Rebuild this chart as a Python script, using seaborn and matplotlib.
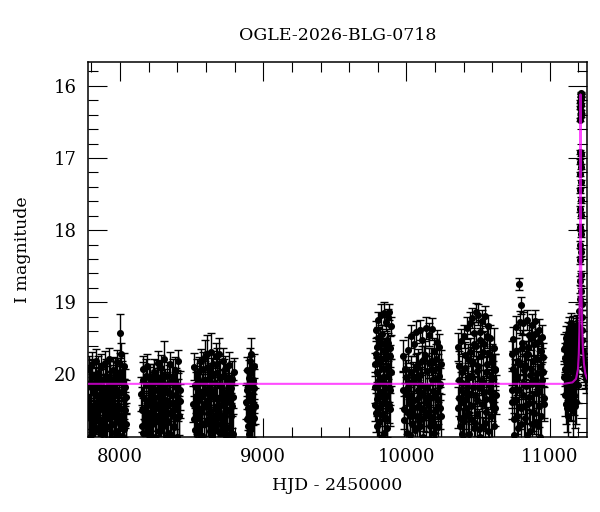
import numpy as np
import pandas as pd
import matplotlib
matplotlib.use("Agg")
import matplotlib.pyplot as plt
from matplotlib.ticker import MultipleLocator
import seaborn as sns

# OGLE photometry (HJD - 2450000, I mag, error)
s1_t = [7778, 7784, 7790, 7795, 7801, 7806, 7812, 7818, 7823, 7829, 7835, 7841, 7846, 7852, 7858, 7864,
        7870, 7876, 7881, 7887, 7893, 7899, 7904, 7910, 7916, 7922, 7928, 7933, 7939, 7945, 7951, 7957,
        7962, 7968, 7974, 7980, 7986, 7991, 7997, 8000, 8003, 8009, 8015, 8021, 8027, 8033, 8039, 8044,
        7781, 7787, 7793, 7798, 7804, 7809, 7815, 7821, 7826, 7832, 7838, 7844, 7849, 7855, 7861, 7867,
        7873, 7879, 7884, 7890, 7896, 7902, 7907, 7913, 7919, 7925, 7931, 7936, 7942, 7948, 7954, 7960,
        7965, 7971, 7977, 7983, 7989, 7994, 8006, 8012, 8018, 8024, 8030, 8036, 8042]
s1_m = [20.35, 19.92, 20.61, 20.18, 20.83, 19.86, 20.44, 20.97, 20.12, 20.56, 19.81, 20.29, 20.74, 20.05,
        20.48, 21.02, 19.89, 20.38, 20.66, 20.21, 19.84, 20.52, 20.91, 20.08, 20.33, 19.79, 20.71, 20.45,
        20.16, 20.88, 19.94, 20.27, 20.59, 20.03, 20.79, 19.83, 20.42, 20.64, 19.96, 19.43, 19.72, 20.24,
        20.85, 20.11, 19.88, 20.49, 20.69, 20.31,
        20.58, 20.12, 20.87, 20.44, 20.03, 20.69, 20.26, 20.51, 20.92, 20.15, 20.38, 20.77, 19.98, 20.62,
        20.31, 20.09, 20.83, 20.47, 20.19, 20.95, 20.57, 20.02, 20.73, 20.36, 20.61, 20.24, 20.06, 20.89,
        20.41, 20.13, 20.68, 20.52, 20.01, 20.81, 20.29, 20.57, 20.11, 20.86, 20.48, 20.05, 20.63, 20.34,
        20.76, 20.18, 20.91]
s1_e = [0.24, 0.18, 0.29, 0.22, 0.31, 0.17, 0.26, 0.33, 0.21, 0.27, 0.16, 0.23, 0.30, 0.20, 0.26, 0.34,
        0.18, 0.24, 0.28, 0.21, 0.17, 0.27, 0.32, 0.20, 0.23, 0.16, 0.29, 0.25, 0.21, 0.31, 0.18, 0.23,
        0.27, 0.20, 0.30, 0.17, 0.24, 0.28, 0.19, 0.27, 0.16, 0.22, 0.31, 0.21, 0.18, 0.25, 0.29, 0.24,
        0.30, 0.25, 0.36, 0.31, 0.24, 0.33, 0.28, 0.31, 0.38, 0.26, 0.29, 0.35, 0.23, 0.32, 0.28, 0.25,
        0.36, 0.30, 0.26, 0.39, 0.31, 0.24, 0.34, 0.28, 0.32, 0.27, 0.25, 0.37, 0.29, 0.26, 0.33, 0.31,
        0.24, 0.36, 0.28, 0.31, 0.26, 0.37, 0.30, 0.24, 0.32, 0.28, 0.35, 0.26, 0.38]

s2_t = [8148, 8154, 8160, 8166, 8172, 8178, 8184, 8190, 8196, 8202, 8208, 8214, 8220, 8226, 8232, 8238,
        8244, 8250, 8256, 8262, 8268, 8274, 8280, 8286, 8292, 8298, 8304, 8310, 8316, 8322, 8328, 8334,
        8340, 8346, 8352, 8358, 8364, 8370, 8376, 8382, 8388, 8394, 8400, 8406, 8412, 8417,
        8151, 8157, 8163, 8169, 8175, 8181, 8187, 8193, 8199, 8205, 8211, 8217, 8223, 8229, 8235, 8241,
        8247, 8253, 8259, 8265, 8271, 8277, 8283, 8289, 8295, 8301, 8307, 8313, 8319, 8325, 8331, 8337,
        8343, 8349, 8355, 8361, 8367, 8373, 8379, 8385, 8391, 8397, 8403, 8409, 8415]
s2_m = [20.27, 20.72, 19.93, 20.48, 20.95, 20.14, 20.61, 19.88, 20.39, 20.83, 20.06, 20.52, 21.05, 20.22,
        20.67, 19.97, 20.43, 20.89, 20.11, 19.84, 20.58, 20.31, 20.79, 19.91, 20.46, 20.17, 20.92, 19.79,
        20.36, 20.63, 20.02, 20.81, 20.25, 19.86, 20.54, 20.98, 20.09, 20.41, 20.73, 19.94, 20.29, 20.86,
        20.15, 19.82, 20.57, 20.37,
        20.49, 20.08, 20.81, 20.33, 20.61, 20.02, 20.74, 20.42, 20.15, 20.93, 20.55, 20.27, 20.69, 20.11,
        20.38, 20.86, 20.21, 20.63, 20.04, 20.47, 20.79, 20.16, 20.58, 20.32, 20.07, 20.71, 20.44, 20.19,
        20.88, 20.53, 20.24, 20.66, 20.12, 20.39, 20.84, 20.28, 20.57, 20.03, 20.72, 20.45, 20.17, 20.61,
        20.35, 20.94, 20.22]
s2_e = [0.23, 0.29, 0.18, 0.25, 0.32, 0.21, 0.27, 0.17, 0.24, 0.30, 0.20, 0.26, 0.34, 0.22, 0.28, 0.18,
        0.25, 0.31, 0.20, 0.17, 0.27, 0.23, 0.30, 0.18, 0.25, 0.21, 0.32, 0.26, 0.24, 0.28, 0.19, 0.30,
        0.22, 0.17, 0.26, 0.33, 0.20, 0.24, 0.29, 0.18, 0.23, 0.31, 0.21, 0.16, 0.27, 0.24,
        0.31, 0.25, 0.36, 0.29, 0.33, 0.24, 0.35, 0.30, 0.26, 0.39, 0.32, 0.28, 0.34, 0.25, 0.29, 0.37,
        0.27, 0.33, 0.24, 0.30, 0.36, 0.26, 0.32, 0.29, 0.25, 0.35, 0.30, 0.27, 0.38, 0.31, 0.27, 0.34,
        0.25, 0.29, 0.37, 0.28, 0.32, 0.24, 0.35, 0.30, 0.26, 0.33, 0.29, 0.39, 0.27]

s3_t = [8512, 8518, 8524, 8530, 8536, 8542, 8548, 8554, 8560, 8566, 8572, 8578, 8584, 8590, 8596, 8602,
        8608, 8614, 8620, 8626, 8632, 8638, 8644, 8650, 8656, 8662, 8668, 8674, 8680, 8686, 8692, 8698,
        8704, 8710, 8716, 8722, 8728, 8734, 8740, 8746, 8752, 8758, 8764, 8770, 8776, 8782, 8788, 8794,
        8515, 8521, 8527, 8533, 8539, 8545, 8551, 8557, 8563, 8569, 8575, 8581, 8587, 8593, 8599, 8605,
        8611, 8617, 8623, 8629, 8635, 8641, 8647, 8653, 8659, 8665, 8671, 8677, 8683, 8689, 8695, 8701,
        8707, 8713, 8719, 8725, 8731, 8737, 8743, 8749, 8755, 8761, 8767, 8773, 8779, 8785, 8791]
s3_m = [20.41, 19.89, 20.77, 20.18, 20.56, 21.01, 19.95, 20.33, 20.84, 19.82, 20.47, 20.12, 20.69, 19.76,
        20.26, 20.93, 19.71, 20.38, 20.62, 20.04, 19.69, 20.51, 20.87, 19.85, 20.23, 20.71, 19.74, 20.44,
        19.98, 20.79, 19.72, 20.15, 20.58, 20.96, 19.81, 20.35, 20.66, 19.93, 20.28, 20.82, 20.07, 19.87,
        20.49, 20.74, 20.19, 20.89, 20.31, 19.96,
        20.62, 20.14, 20.45, 20.91, 20.03, 20.36, 20.72, 20.09, 20.51, 20.27, 20.85, 19.92, 20.41, 20.07,
        20.66, 20.21, 19.89, 20.54, 20.17, 20.78, 20.31, 20.01, 20.59, 20.24, 20.92, 20.12, 20.47, 19.86,
        20.69, 20.33, 20.05, 20.81, 20.42, 20.19, 20.64, 20.02, 20.53, 20.26, 20.88, 20.38, 20.11, 20.73,
        20.29, 20.57, 20.06, 20.44, 20.83]
s3_e = [0.25, 0.19, 0.30, 0.21, 0.27, 0.34, 0.19, 0.23, 0.31, 0.17, 0.26, 0.21, 0.29, 0.24, 0.22, 0.32,
        0.25, 0.24, 0.28, 0.20, 0.26, 0.27, 0.31, 0.18, 0.22, 0.29, 0.17, 0.25, 0.19, 0.30, 0.22, 0.21,
        0.27, 0.33, 0.18, 0.23, 0.28, 0.19, 0.22, 0.30, 0.20, 0.18, 0.26, 0.29, 0.21, 0.31, 0.24, 0.19,
        0.32, 0.26, 0.30, 0.38, 0.24, 0.29, 0.35, 0.25, 0.31, 0.28, 0.37, 0.23, 0.30, 0.25, 0.33, 0.27,
        0.22, 0.31, 0.26, 0.35, 0.29, 0.24, 0.32, 0.27, 0.38, 0.25, 0.30, 0.22, 0.34, 0.29, 0.24, 0.36,
        0.30, 0.26, 0.33, 0.24, 0.31, 0.28, 0.37, 0.29, 0.25, 0.35, 0.28, 0.32, 0.24, 0.30, 0.36]

s4_t = [8882, 8887, 8891, 8896, 8900, 8905, 8909, 8914, 8918, 8923, 8927, 8932, 8936, 8940,
        8884, 8889, 8893, 8898, 8902, 8907, 8911, 8916, 8920, 8925, 8929, 8934, 8938]
s4_m = [20.38, 19.94, 20.71, 20.16, 20.89, 19.81, 20.52, 19.72, 20.27, 20.96, 20.08, 20.61, 19.88, 20.44,
        20.62, 20.21, 20.47, 20.83, 20.05, 20.34, 20.74, 19.98, 20.56, 20.12, 20.41, 20.92, 20.19]
s4_e = [0.24, 0.18, 0.29, 0.21, 0.32, 0.17, 0.26, 0.22, 0.22, 0.33, 0.19, 0.27, 0.17, 0.25,
        0.32, 0.27, 0.30, 0.36, 0.25, 0.29, 0.34, 0.24, 0.31, 0.26, 0.29, 0.38, 0.27]

s5_t = [9780, 9784, 9788, 9792, 9796, 9800, 9804, 9808, 9812, 9816, 9820, 9824, 9828, 9832, 9836, 9840,
        9844, 9848, 9852, 9856, 9860, 9864, 9868, 9872, 9876, 9880, 9884, 9888, 9892,
        9782, 9786, 9790, 9794, 9798, 9802, 9806, 9810, 9814, 9818, 9822, 9826, 9830, 9834, 9838, 9842,
        9846, 9850, 9854, 9858, 9862, 9866, 9870, 9874, 9878, 9882, 9886, 9890]
s5_m = [19.86, 20.42, 19.38, 20.71, 19.62, 20.15, 19.24, 20.93, 19.51, 20.28, 19.17, 19.79, 20.56, 19.44,
        20.04, 19.15, 20.81, 19.69, 20.33, 19.28, 19.93, 20.62, 19.21, 19.56, 20.19, 19.14, 19.74, 20.48, 19.33,
        20.18, 19.71, 20.53, 19.96, 20.34, 19.49, 20.66, 20.07, 19.83, 20.46, 19.58, 20.24, 20.87, 19.91,
        20.39, 19.66, 20.12, 20.59, 19.77, 20.28, 19.52, 20.74, 20.01, 19.88, 20.42, 19.63, 20.21, 19.97]
s5_e = [0.16, 0.22, 0.12, 0.27, 0.14, 0.19, 0.11, 0.31, 0.14, 0.20, 0.15, 0.16, 0.24, 0.13, 0.18, 0.16,
        0.29, 0.15, 0.21, 0.12, 0.17, 0.25, 0.12, 0.14, 0.19, 0.11, 0.15, 0.23, 0.13,
        0.22, 0.17, 0.27, 0.19, 0.24, 0.15, 0.29, 0.21, 0.18, 0.26, 0.16, 0.22, 0.33, 0.19, 0.25, 0.16,
        0.21, 0.28, 0.17, 0.23, 0.15, 0.30, 0.20, 0.18, 0.25, 0.16, 0.22, 0.19]

s6_t = [9975, 9982, 9990, 9998, 10006, 10014, 10020, 10026, 10032, 10038, 10044, 10050, 10056, 10062,
        10068, 10074, 10080, 10086, 10092, 10098, 10104, 10110, 10116, 10122, 10128, 10134, 10140, 10146,
        10152, 10158, 10164, 10170, 10176, 10182, 10188, 10194, 10200, 10206, 10212, 10218, 10224, 10230,
        10236, 10242,
        9978, 9986, 9994, 10002, 10010, 10017, 10023, 10029, 10035, 10041, 10047, 10053, 10059, 10065,
        10071, 10077, 10083, 10089, 10095, 10101, 10107, 10113, 10119, 10125, 10131, 10137, 10143, 10149,
        10155, 10161, 10167, 10173, 10179, 10185, 10191, 10197, 10203, 10209, 10215, 10221, 10227, 10233,
        10239]
s6_m = [19.74, 20.48, 19.92, 20.27, 20.81, 19.66, 20.12, 20.57, 19.47, 20.93, 20.03, 19.58, 20.36, 20.74,
        19.41, 19.89, 20.22, 20.65, 19.38, 20.01, 20.46, 19.52, 20.86, 19.79, 20.17, 19.36, 20.54, 19.95,
        20.39, 19.45, 20.71, 19.82, 20.08, 19.37, 20.59, 19.68, 20.29, 20.97, 19.55, 19.91, 20.44, 19.62,
        20.13, 19.86,
        20.21, 20.63, 20.04, 20.52, 20.17, 20.39, 20.84, 19.96, 20.28, 20.69, 20.36, 20.11, 20.77, 19.93,
        20.45, 20.58, 19.86, 20.31, 20.72, 20.14, 19.81, 20.61, 20.25, 20.49, 19.73, 20.91, 20.19, 20.42,
        19.84, 20.56, 20.33, 20.67, 19.92, 20.23, 20.81, 20.06, 20.51, 19.78, 20.34, 20.73, 20.02, 20.47,
        20.58]
s6_e = [0.22, 0.27, 0.20, 0.24, 0.30, 0.18, 0.22, 0.27, 0.16, 0.32, 0.20, 0.17, 0.24, 0.28, 0.15, 0.19,
        0.22, 0.27, 0.14, 0.20, 0.25, 0.17, 0.31, 0.19, 0.21, 0.15, 0.26, 0.20, 0.24, 0.16, 0.28, 0.19,
        0.21, 0.15, 0.27, 0.18, 0.23, 0.33, 0.17, 0.20, 0.25, 0.18, 0.22, 0.20,
        0.26, 0.33, 0.24, 0.31, 0.25, 0.28, 0.36, 0.22, 0.27, 0.34, 0.28, 0.25, 0.35, 0.22, 0.30, 0.32,
        0.21, 0.28, 0.34, 0.25, 0.20, 0.32, 0.27, 0.30, 0.19, 0.38, 0.26, 0.29, 0.21, 0.31, 0.28, 0.33,
        0.22, 0.26, 0.36, 0.24, 0.30, 0.20, 0.28, 0.35, 0.23, 0.29, 0.31]

s7_t = [10358, 10364, 10370, 10376, 10382, 10388, 10394, 10400, 10406, 10412, 10418, 10424, 10430, 10436,
        10442, 10448, 10454, 10460, 10466, 10472, 10478, 10484, 10490, 10496, 10502, 10508, 10514, 10520,
        10526, 10532, 10538, 10544, 10550, 10556, 10562, 10568, 10574, 10580, 10586, 10592, 10598, 10604,
        10610, 10616, 10622,
        10361, 10367, 10373, 10379, 10385, 10391, 10397, 10403, 10409, 10415, 10421, 10427, 10433, 10439,
        10445, 10451, 10457, 10463, 10469, 10475, 10481, 10487, 10493, 10499, 10505, 10511, 10517, 10523,
        10529, 10535, 10541, 10547, 10553, 10559, 10565, 10571, 10577, 10583, 10589, 10595, 10601, 10607,
        10613, 10619, 10625]
s7_m = [19.62, 20.33, 19.88, 20.71, 19.54, 20.12, 20.89, 19.47, 20.26, 19.73, 20.58, 19.36, 20.05, 20.82,
        19.29, 19.81, 20.44, 19.22, 20.17, 19.58, 20.67, 19.14, 19.95, 20.36, 19.17, 20.76, 19.41, 20.08,
        19.26, 20.73, 19.69, 20.24, 19.19, 20.52, 19.86, 19.33, 20.14, 20.91, 19.49, 20.03, 19.76, 20.29,
        19.64, 20.47, 19.92,
        20.46, 20.08, 20.61, 20.21, 20.83, 19.97, 20.38, 20.64, 19.91, 20.47, 20.13, 19.78, 20.53, 20.27,
        19.69, 20.62, 20.03, 19.84, 20.74, 19.43, 20.29, 19.61, 20.55, 19.88, 20.19, 19.52, 20.86, 19.74,
        20.41, 20.11, 19.58, 20.67, 19.96, 20.34, 19.47, 20.79, 19.71, 20.22, 20.58, 19.82, 20.37, 20.05,
        20.71, 19.94, 20.28]
s7_e = [0.19, 0.24, 0.20, 0.29, 0.17, 0.22, 0.32, 0.16, 0.23, 0.18, 0.27, 0.15, 0.21, 0.30, 0.15, 0.19,
        0.25, 0.14, 0.22, 0.17, 0.27, 0.13, 0.20, 0.24, 0.14, 0.28, 0.16, 0.21, 0.15, 0.14, 0.18, 0.22,
        0.14, 0.26, 0.19, 0.15, 0.21, 0.31, 0.17, 0.20, 0.18, 0.23, 0.29, 0.25, 0.20,
        0.28, 0.24, 0.31, 0.25, 0.35, 0.22, 0.28, 0.32, 0.21, 0.29, 0.25, 0.20, 0.30, 0.26, 0.19, 0.31,
        0.23, 0.20, 0.33, 0.16, 0.27, 0.18, 0.30, 0.21, 0.25, 0.17, 0.36, 0.20, 0.28, 0.24, 0.18, 0.32,
        0.22, 0.27, 0.17, 0.34, 0.19, 0.26, 0.31, 0.21, 0.28, 0.24, 0.33, 0.22, 0.27]

s8_t = [10735, 10741, 10747, 10753, 10759, 10765, 10771, 10777, 10783, 10787, 10791, 10797, 10800, 10805,
        10811, 10817, 10823, 10829, 10835, 10841, 10847, 10853, 10859, 10865, 10871, 10877, 10883, 10889,
        10895, 10901, 10907, 10913, 10919, 10925, 10931, 10937, 10943, 10949, 10955, 10960,
        10738, 10744, 10750, 10756, 10762, 10768, 10774, 10780, 10794, 10802, 10808, 10814, 10820, 10826,
        10832, 10838, 10844, 10850, 10856, 10862, 10868, 10874, 10880, 10886, 10892, 10898, 10904, 10910,
        10916, 10922, 10928, 10934, 10940, 10946, 10952, 10958]
s8_m = [19.72, 20.38, 19.51, 20.84, 19.98, 19.34, 20.57, 19.82, 20.21, 18.75, 19.27, 20.69, 19.04, 19.63,
        20.12, 19.29, 20.93, 19.87, 20.43, 19.24, 19.71, 20.31, 19.45, 20.78, 19.93, 19.31, 20.52, 19.58,
        20.06, 19.26, 20.66, 19.79, 20.24, 19.39, 20.87, 19.67, 20.15, 19.48, 19.96, 20.41,
        20.21, 19.93, 20.62, 20.09, 19.68, 20.35, 20.04, 20.74, 19.86, 20.47, 19.57, 20.28, 19.94, 20.61,
        19.73, 20.16, 20.84, 19.62, 20.39, 20.01, 19.49, 20.69, 20.13, 19.81, 20.53, 19.44, 20.26, 19.98,
        20.72, 19.55, 20.44, 19.89, 20.58, 20.07, 19.76, 20.33]
s8_e = [0.19, 0.24, 0.17, 0.30, 0.20, 0.15, 0.26, 0.19, 0.22, 0.08, 0.15, 0.28, 0.12, 0.18, 0.22, 0.15,
        0.33, 0.19, 0.25, 0.14, 0.18, 0.23, 0.16, 0.29, 0.20, 0.15, 0.26, 0.17, 0.21, 0.15, 0.27, 0.19,
        0.23, 0.16, 0.31, 0.18, 0.22, 0.16, 0.20, 0.24,
        0.26, 0.22, 0.31, 0.24, 0.19, 0.28, 0.24, 0.33, 0.21, 0.29, 0.18, 0.27, 0.22, 0.31, 0.19, 0.25,
        0.36, 0.18, 0.28, 0.23, 0.17, 0.32, 0.25, 0.20, 0.30, 0.16, 0.27, 0.22, 0.33, 0.18, 0.29, 0.21,
        0.31, 0.24, 0.19, 0.28]

s9_t = [11102, 11106, 11110, 11114, 11118, 11122, 11126, 11130, 11134, 11138, 11142, 11146, 11150, 11154,
        11158, 11162, 11166, 11170, 11174, 11178, 11182, 11186, 11190, 11194, 11198, 11201, 11204, 11207,
        11104, 11108, 11112, 11116, 11120, 11124, 11128, 11132, 11136, 11140, 11144, 11148, 11152, 11156,
        11160, 11164, 11168, 11172, 11176, 11180, 11184, 11188, 11192, 11196, 11200, 11203, 11206]
s9_m = [19.65, 19.92, 20.28, 19.58, 19.81, 20.47, 19.43, 20.12, 19.71, 19.36, 20.33, 19.88, 19.29, 20.22,
        19.54, 20.51, 19.34, 19.97, 20.06, 19.48, 20.38, 19.62, 19.31, 19.85, 20.15, 19.52, 19.66, 19.39,
        20.04, 19.77, 20.41, 19.49, 20.17, 19.86, 20.58, 19.62, 20.25, 19.94, 19.45, 20.36, 19.73, 20.09,
        19.41, 19.82, 20.29, 19.58, 20.44, 19.91, 19.37, 20.13, 19.69, 19.47, 19.81, 19.58, 19.44]
s9_e = [0.21, 0.24, 0.29, 0.17, 0.20, 0.33, 0.16, 0.24, 0.19, 0.15, 0.30, 0.22, 0.14, 0.26, 0.17, 0.36,
        0.15, 0.23, 0.25, 0.16, 0.31, 0.18, 0.14, 0.20, 0.24, 0.16, 0.17, 0.14,
        0.23, 0.20, 0.28, 0.16, 0.25, 0.21, 0.33, 0.18, 0.26, 0.22, 0.16, 0.29, 0.19, 0.24, 0.15, 0.20,
        0.27, 0.17, 0.30, 0.21, 0.15, 0.25, 0.18, 0.16, 0.19, 0.17, 0.16]

# the microlensing event itself
ev_t = [11208.0, 11209.0, 11210.0, 11211.0, 11211.8, 11212.5, 11213.2, 11213.8, 11214.3, 11214.7, 11215.0,
        11215.3, 11215.6, 11215.8, 11215.9, 11216.0, 11216.1, 11216.2, 11216.3, 11216.4, 11216.5, 11216.6,
        11216.9, 11217.2, 11217.6, 11218.0, 11218.5, 11219.2, 11220.0, 11221.0, 11222.0, 11223.5, 11225.0,
        11227.0, 11229.0, 11232.0, 11235.0, 11238.0, 11241.0, 11245.0, 11249.0, 11253.0, 11256.0]
ev_m = [19.35, 19.12, 18.95, 18.70, 18.42, 18.20, 17.95, 17.71, 17.45, 17.22, 17.05, 16.92, 16.47, 16.30,
        16.22, 16.14, 16.10, 16.12, 16.18, 16.26, 16.36, 16.41, 16.95, 17.12, 17.34, 17.58, 17.79, 18.05,
        18.31, 18.62, 18.84, 19.03, 19.21, 19.38, 19.52, 19.67, 19.78, 19.86, 19.93, 20.01, 19.89, 20.06, 19.97]
ev_e = [0.10, 0.09, 0.08, 0.06, 0.05, 0.05, 0.04, 0.04, 0.03, 0.03, 0.03, 0.03, 0.02, 0.02, 0.02, 0.02,
        0.02, 0.02, 0.02, 0.02, 0.02, 0.02, 0.03, 0.03, 0.03, 0.04, 0.04, 0.04, 0.05, 0.06, 0.07, 0.08,
        0.10, 0.11, 0.12, 0.14, 0.15, 0.16, 0.17, 0.18, 0.17, 0.19, 0.18]

# model light curve (magenta)
model_t = [7770, 11100, 11160, 11185, 11198, 11204, 11208, 11211, 11213.5, 11215, 11216, 11217, 11219,
           11222, 11226, 11232, 11240, 11250, 11262]
model_m = [20.13, 20.13, 20.11, 20.06, 19.93, 19.72, 19.40, 18.75, 17.85, 17.0, 16.12, 16.9, 17.95,
           18.8, 19.25, 19.62, 19.85, 19.99, 20.06]

title = "OGLE-2026-BLG-0718"

phot = pd.DataFrame({
    "hjd": s1_t + s2_t + s3_t + s4_t + s5_t + s6_t + s7_t + s8_t + s9_t + ev_t,
    "mag": s1_m + s2_m + s3_m + s4_m + s5_m + s6_m + s7_m + s8_m + s9_m + ev_m,
    "err": s1_e + s2_e + s3_e + s4_e + s5_e + s6_e + s7_e + s8_e + s9_e + ev_e,
})
model = pd.DataFrame({"hjd": model_t, "mag": model_m})

sns.set_style("ticks")
plt.rcParams["font.family"] = ["DejaVu Serif"]
plt.rcParams["text.color"] = "black"
plt.rcParams["axes.labelcolor"] = "black"

fig = plt.figure(figsize=(6, 5.12), dpi=100)
ax = fig.add_axes([0.146, 0.146, 0.832, 0.733])

ax.errorbar(phot["hjd"], phot["mag"], yerr=phot["err"], fmt="none", ecolor="black",
            elinewidth=1.0, capsize=3, capthick=1.0, zorder=2)
sns.scatterplot(data=phot, x="hjd", y="mag", ax=ax, color="black", s=26, edgecolor="black",
                linewidth=0, zorder=3, legend=False)
sns.lineplot(data=model, x="hjd", y="mag", ax=ax, color="#ff00ff", lw=1.5, alpha=0.7,
             sort=False, estimator=None, zorder=4)

ax.set_xlim(7773, 11260)
ax.set_ylim(20.87, 15.67)
ax.xaxis.set_major_locator(MultipleLocator(1000))
ax.xaxis.set_minor_locator(MultipleLocator(200))
ax.yaxis.set_major_locator(MultipleLocator(1))
ax.yaxis.set_minor_locator(MultipleLocator(0.2))
ax.tick_params(which="both", direction="in", top=True, right=True, labelsize=13,
               colors="black", labelcolor="black")
ax.tick_params(which="major", length=13.5, width=0.8, pad=8)
ax.tick_params(which="minor", length=7, width=0.8)
for sp in ax.spines.values():
    sp.set_linewidth(1.1)
    sp.set_color("black")

ax.set_xlabel("HJD - 2450000", fontsize=12.5, labelpad=8)
ax.set_ylabel("I magnitude", fontsize=12.5, labelpad=16)
ax.set_title(title, fontsize=12.5, pad=16)

fig.savefig("out.png", dpi=100)
